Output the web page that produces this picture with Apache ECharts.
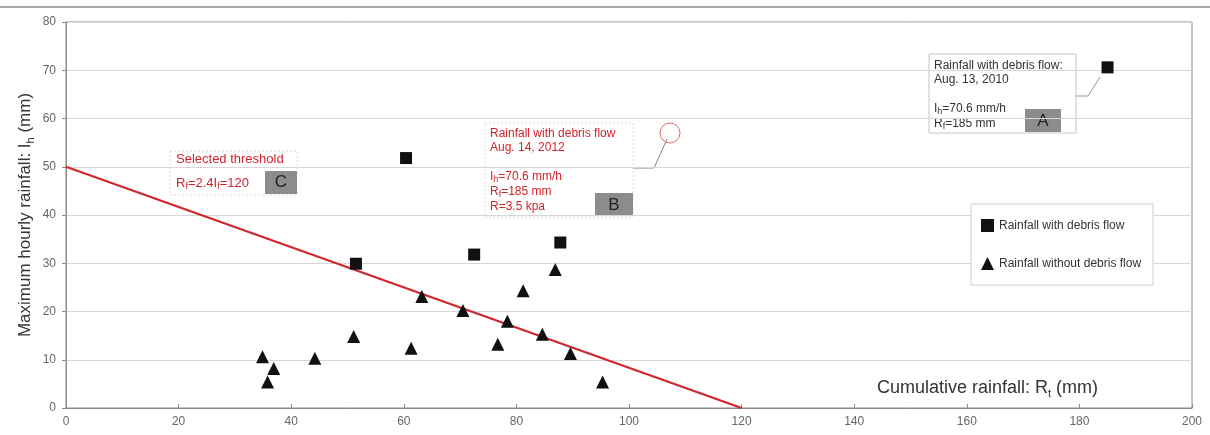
<!DOCTYPE html>
<html>
<head>
<meta charset="utf-8">
<script src="https://cdn.jsdelivr.net/npm/echarts@6/dist/echarts.min.js"></script>
<style>
  html, body { margin: 0; padding: 0; background: #fff; }
  #chart { width: 1210px; height: 435px; }
</style>
</head>
<body>
<div id="chart"></div>
<script>
// rainfall events with debris flow (squares)
const debrisRf = [185, 60.4, 51.5, 72.5, 87.8];
const debrisIh = [70.6, 51.8, 29.9, 31.8, 34.3];
// rainfall events without debris flow (triangles)
const noDebrisRf = [34.9, 36.9, 35.8, 44.2, 51.1, 61.3, 63.2, 70.5, 76.7, 78.4, 81.2, 84.6, 86.9, 89.6, 95.3];
const noDebrisIh = [10.6, 8.2, 5.4, 10.3, 14.8, 12.4, 23.1, 20.2, 13.2, 18.0, 24.3, 15.3, 28.7, 11.3, 5.4];
// selected threshold Rt = 2.4 Ih = 120
const thresholdRf = [0, 120];
const thresholdIh = [50, 0];

const seriesNames = ['Rainfall with debris flow', 'Rainfall without debris flow'];

const red = '#d3232b';
const font = 'Liberation Sans, Arial, sans-serif';

let myChart = echarts.init(document.getElementById('chart'));

function pairs(xs, ys) {
  return xs.map((x, i) => [x, ys[i]]);
}

const subRich = {
  sub: { fontSize: 9, verticalAlign: 'bottom', lineHeight: 15, fontFamily: font }
};

let option = {
  animation: false,
  backgroundColor: '#fff',
  textStyle: { fontFamily: font },
  grid: {
    left: 66,
    right: 18,
    top: 22,
    bottom: 27,
    show: true,
    borderColor: '#8a8a8a',
    borderWidth: 1
  },
  legend: {
    data: seriesNames,
    orient: 'vertical',
    left: 971,
    top: 204,
    padding: [15, 12, 15, 10],
    itemGap: 25,
    itemWidth: 13,
    itemHeight: 13,
    borderColor: '#cfcfcf',
    borderWidth: 1,
    backgroundColor: '#fff',
    textStyle: { fontSize: 12, color: '#333' }
  },
  xAxis: {
    type: 'value',
    min: 0,
    max: 200,
    interval: 20,
    axisLine: { lineStyle: { color: '#8a8a8a' } },
    axisTick: { show: true, inside: true, length: 4, lineStyle: { color: '#8a8a8a' } },
    axisLabel: { color: '#666', fontSize: 12, margin: 8 },
    splitLine: { show: false }
  },
  yAxis: {
    type: 'value',
    min: 0,
    max: 80,
    interval: 10,
    name: 'Maximum hourly rainfall: I{sub|h} (mm)',
    nameLocation: 'middle',
    nameGap: 30,
    nameMoveOverlap: false,
    nameTextStyle: {
      fontSize: 17,
      color: '#333',
      rich: { sub: { fontSize: 11, verticalAlign: 'bottom', lineHeight: 21 } }
    },
    axisLine: { show: true, lineStyle: { color: '#8a8a8a' } },
    axisTick: { show: true, length: 4, lineStyle: { color: '#8a8a8a' } },
    axisLabel: { color: '#666', fontSize: 12, margin: 10 },
    splitLine: { lineStyle: { color: '#d6d6d6', width: 1 } }
  },
  series: [
    {
      name: 'Selected threshold',
      type: 'line',
      data: pairs(thresholdRf, thresholdIh),
      symbol: 'none',
      lineStyle: { color: red, width: 2 },
      z: 1
    },
    {
      name: seriesNames[0],
      type: 'scatter',
      symbol: 'rect',
      symbolSize: 12,
      itemStyle: { color: '#111', opacity: 1 },
      data: pairs(debrisRf, debrisIh),
      z: 3
    },
    {
      name: seriesNames[1],
      type: 'scatter',
      symbol: 'triangle',
      symbolSize: 13,
      itemStyle: { color: '#111', opacity: 1 },
      data: pairs(noDebrisRf, noDebrisIh),
      z: 3
    }
  ],
  graphic: [
    // top rule
    { type: 'line', shape: { x1: 0, y1: 7, x2: 1210, y2: 7 }, style: { stroke: '#aaa', lineWidth: 2 } },
    // x axis title inside the plot
    {
      type: 'text', left: 877, top: 379,
      style: {
        text: 'Cumulative rainfall: R{sub|t} (mm)',
        font: '18px ' + font, fill: '#333',
        rich: { sub: { fontSize: 11, verticalAlign: 'bottom', lineHeight: 22 } }
      }
    },
    // annotation A
    { type: 'polyline', shape: { points: [[1076, 96], [1088, 96], [1100, 77]] }, style: { stroke: '#999', lineWidth: 1, fill: null } },
    { type: 'rect', shape: { x: 929, y: 54, width: 147, height: 79 }, style: { fill: '#fff', stroke: '#c4c4c4' } },
    {
      type: 'text', x: 934, y: 58,
      style: {
        text: 'Rainfall with debris flow:\nAug. 13, 2010\n\nI{sub|h}=70.6 mm/h\nR{sub|f}=185 mm',
        font: '12px ' + font, fill: '#333', lineHeight: 14.5,
        rich: subRich
      }
    },
    { type: 'rect', shape: { x: 1025, y: 109, width: 36, height: 23 }, style: { fill: '#8c8c8c' } },
    { type: 'text', x: 1043, y: 121, style: { text: 'A', font: '17px ' + font, fill: '#222', align: 'center', verticalAlign: 'middle' } },
    // annotation B
    { type: 'polyline', shape: { points: [[633, 168], [654, 168], [667, 139]] }, style: { stroke: '#888', lineWidth: 1, fill: null } },
    { type: 'circle', shape: { cx: 670, cy: 133, r: 10 }, style: { fill: null, stroke: '#e06a6a', lineWidth: 1 } },
    { type: 'rect', shape: { x: 485, y: 123, width: 148, height: 94 }, style: { fill: '#fff', stroke: '#d8d8d8', lineDash: [2, 2] } },
    {
      type: 'text', x: 490, y: 126,
      style: {
        text: 'Rainfall with debris flow\nAug. 14, 2012\n\nI{sub|h}=70.6 mm/h\nR{sub|f}=185 mm\nR=3.5 kpa',
        font: '12px ' + font, fill: red, lineHeight: 14.4,
        rich: subRich
      }
    },
    { type: 'rect', shape: { x: 595, y: 193, width: 38, height: 23 }, style: { fill: '#8c8c8c' } },
    { type: 'text', x: 614, y: 205, style: { text: 'B', font: '17px ' + font, fill: '#222', align: 'center', verticalAlign: 'middle' } },
    // annotation C
    { type: 'rect', shape: { x: 170, y: 151, width: 127, height: 44 }, style: { fill: '#fff', stroke: '#d8d8d8', lineDash: [2, 2] } },
    {
      type: 'text', x: 176, y: 152,
      style: { text: 'Selected threshold', font: '13px ' + font, fill: red, lineHeight: 15 }
    },
    {
      type: 'text', x: 176, y: 175,
      style: {
        text: 'R{sub|f}=2.4I{sub|f}=120',
        font: '13px ' + font, fill: red, lineHeight: 15,
        rich: { sub: { fontSize: 9, verticalAlign: 'bottom', lineHeight: 16, fontFamily: font } }
      }
    },
    { type: 'rect', shape: { x: 265, y: 171, width: 32, height: 23 }, style: { fill: '#8c8c8c' } },
    { type: 'text', x: 281, y: 182, style: { text: 'C', font: '17px ' + font, fill: '#222', align: 'center', verticalAlign: 'middle' } }
  ]
};

myChart.setOption(option);
</script>
</body>
</html>
